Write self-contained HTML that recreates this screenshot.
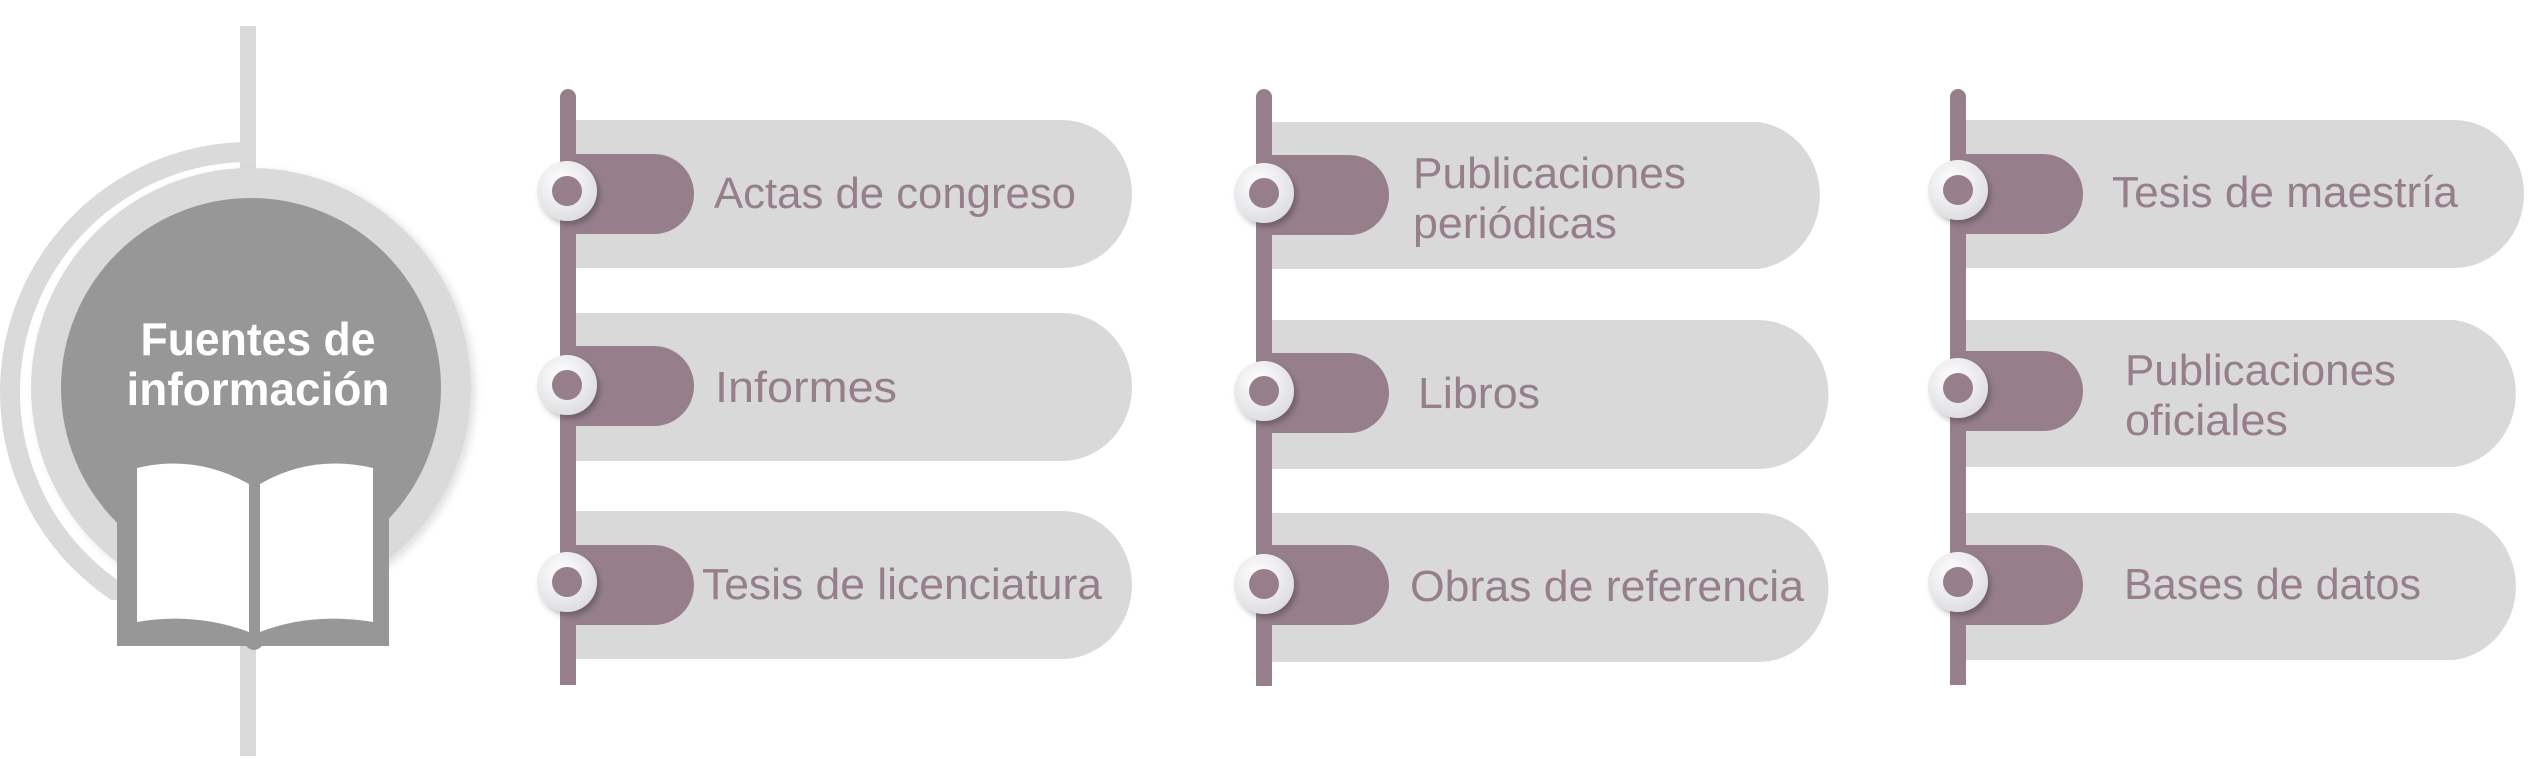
<!DOCTYPE html>
<html><head><meta charset="utf-8"><style>
html,body{margin:0;padding:0;background:#fff;}
svg{display:block;}
text{font-family:"Liberation Sans",sans-serif;}
</style></head><body>
<svg width="2544" height="774" viewBox="0 0 2544 774" xmlns="http://www.w3.org/2000/svg">
<defs>
<filter id="sh" x="-50%" y="-50%" width="200%" height="200%"><feDropShadow dx="3" dy="4" stdDeviation="3" flood-color="#000" flood-opacity="0.25"/></filter>
<filter id="sh2" x="-20%" y="-20%" width="140%" height="140%"><feDropShadow dx="4" dy="3" stdDeviation="4" flood-color="#000" flood-opacity="0.12"/></filter>
<radialGradient id="cg" cx="40%" cy="35%" r="70%"><stop offset="0" stop-color="#ffffff"/><stop offset="1" stop-color="#dcdce0"/></radialGradient>
<clipPath id="lc"><rect x="0" y="0" width="245" height="600"/></clipPath>
</defs>

<!-- left hub -->
<rect x="240" y="26" width="16" height="730" fill="#dadada"/>
<circle cx="250" cy="392" r="240" fill="none" stroke="#dadada" stroke-width="20" clip-path="url(#lc)"/>
<circle cx="251" cy="388" r="220" fill="#dadada" filter="url(#sh2)"/>
<circle cx="251" cy="388" r="190" fill="#979797"/>
<text x="258" y="355" fill="#fff" font-size="46" font-weight="bold" text-anchor="middle" textLength="235" lengthAdjust="spacingAndGlyphs">Fuentes de</text>
<text x="258" y="405" fill="#fff" font-size="46" font-weight="bold" text-anchor="middle" textLength="263" lengthAdjust="spacingAndGlyphs">información</text>
<!-- book -->
<path d="M129 462 Q190 450 250 476 Q310 450 378 462 L378 476 L389 480 L389 646 L262 646 Q254 654 246 646 L117 646 L117 480 L129 476 Z" fill="#979797"/>
<path d="M137 468 Q195 454 249 484 L249 632 Q195 612 137 622 Z" fill="#fff"/>
<path d="M260 484 Q312 454 373 468 L373 622 Q312 612 260 632 Z" fill="#fff"/>
<path d="M249 478 L260 478 L260 568 L254.5 577 L249 568 Z" fill="#979797"/>
<rect x="253.5" y="568" width="2" height="66" fill="#979797"/>

<!-- column bars -->
<g fill="#967f8b">
<rect x="560" y="89" width="16" height="596" rx="8"/><rect x="560" y="100" width="16" height="585"/>
<rect x="1256" y="89" width="16" height="597" rx="8"/><rect x="1256" y="100" width="16" height="586"/>
<rect x="1950" y="89" width="16" height="596" rx="8"/><rect x="1950" y="100" width="16" height="585"/>
</g>

<!-- rows: gray bars -->
<g fill="#d9d9d9">
<path d="M576 120 H1062 A70 74 0 0 1 1062 268 H576 Z"/>
<path d="M576 313 H1062 A70 74 0 0 1 1062 461 H576 Z"/>
<path d="M576 511 H1062 A70 74 0 0 1 1062 659 H576 Z"/>
<path d="M1272 122 H1758 A70 74 0 0 1 1758 269 H1272 Z"/>
<path d="M1272 320 H1758 A70 74 0 0 1 1758 469 H1272 Z"/>
<path d="M1272 513 H1758 A70 74 0 0 1 1758 662 H1272 Z"/>
<path d="M1966 120 H2454 A70 74 0 0 1 2454 268 H1966 Z"/>
<path d="M1966 320 H2454 A70 74 0 0 1 2454 467 H1966 Z"/>
<path d="M1966 513 H2454 A70 74 0 0 1 2454 660 H1966 Z"/>
</g>

<!-- tabs -->
<g fill="#967f8b">
<path d="M576 154 H654 A40 40 0 0 1 654 234 H576 Z"/>
<path d="M576 346 H654 A40 40 0 0 1 654 426 H576 Z"/>
<path d="M576 545 H654 A40 40 0 0 1 654 625 H576 Z"/>
<path d="M1272 155 H1349 A40 40 0 0 1 1349 235 H1272 Z"/>
<path d="M1272 353 H1349 A40 40 0 0 1 1349 433 H1272 Z"/>
<path d="M1272 545 H1349 A40 40 0 0 1 1349 625 H1272 Z"/>
<path d="M1966 154 H2043 A40 40 0 0 1 2043 234 H1966 Z"/>
<path d="M1966 351 H2043 A40 40 0 0 1 2043 431 H1966 Z"/>
<path d="M1966 545 H2043 A40 40 0 0 1 2043 625 H1966 Z"/>
</g>

<!-- circles -->
<g>
<g filter="url(#sh)">
<circle cx="567" cy="191" r="30" fill="url(#cg)"/>
<circle cx="567" cy="385" r="30" fill="url(#cg)"/>
<circle cx="567" cy="582" r="30" fill="url(#cg)"/>
<circle cx="1264" cy="193" r="30" fill="url(#cg)"/>
<circle cx="1264" cy="391" r="30" fill="url(#cg)"/>
<circle cx="1264" cy="584" r="30" fill="url(#cg)"/>
<circle cx="1958" cy="190" r="30" fill="url(#cg)"/>
<circle cx="1958" cy="388" r="30" fill="url(#cg)"/>
<circle cx="1958" cy="582" r="30" fill="url(#cg)"/>
</g>
<g fill="#967f8b">
<circle cx="567" cy="191" r="15"/><circle cx="567" cy="385" r="15"/><circle cx="567" cy="582" r="15"/>
<circle cx="1264" cy="193" r="15"/><circle cx="1264" cy="391" r="15"/><circle cx="1264" cy="584" r="15"/>
<circle cx="1958" cy="190" r="15"/><circle cx="1958" cy="388" r="15"/><circle cx="1958" cy="582" r="15"/>
</g>
</g>

<!-- labels -->
<g fill="#967f8b" font-size="44">
<text x="714" y="208" textLength="362" lengthAdjust="spacingAndGlyphs">Actas de congreso</text>
<text x="715" y="402" textLength="182" lengthAdjust="spacingAndGlyphs">Informes</text>
<text x="702" y="599" textLength="400" lengthAdjust="spacingAndGlyphs">Tesis de licenciatura</text>
<text x="1413" y="188" textLength="273" lengthAdjust="spacingAndGlyphs">Publicaciones</text>
<text x="1413" y="238" textLength="204" lengthAdjust="spacingAndGlyphs">periódicas</text>
<text x="1418" y="408" textLength="122" lengthAdjust="spacingAndGlyphs">Libros</text>
<text x="1410" y="601" textLength="394" lengthAdjust="spacingAndGlyphs">Obras de referencia</text>
<text x="2112" y="207" textLength="346" lengthAdjust="spacingAndGlyphs">Tesis de maestría</text>
<text x="2125" y="385" textLength="271" lengthAdjust="spacingAndGlyphs">Publicaciones</text>
<text x="2125" y="435" textLength="163" lengthAdjust="spacingAndGlyphs">oficiales</text>
<text x="2124" y="599" textLength="297" lengthAdjust="spacingAndGlyphs">Bases de datos</text>
</g>
</svg>
</body></html>
